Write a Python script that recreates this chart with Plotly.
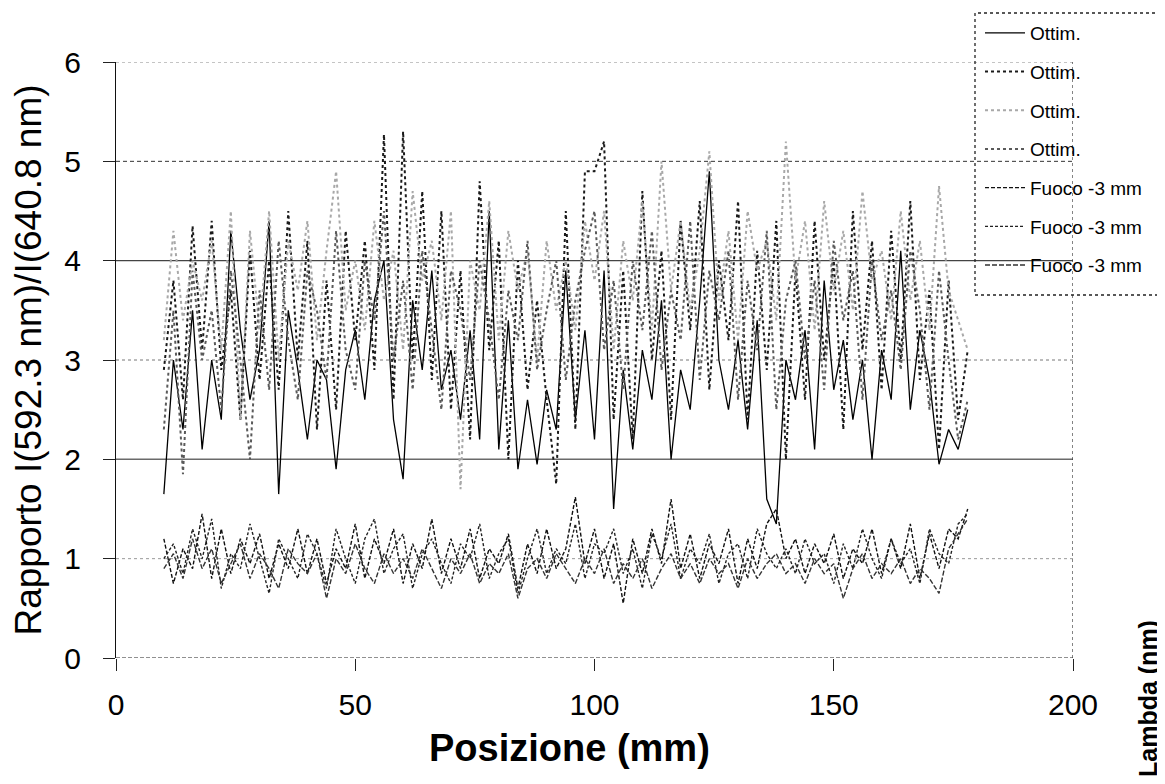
import plotly.graph_objects as go

# ---------------- data ----------------
posizione = list(range(10, 179, 2))  # mm

ottim_1 = [1.65, 3.0, 2.3, 3.5, 2.1, 3.0, 2.4, 4.3, 3.3, 2.6,
           3.1, 4.4, 1.65, 3.5, 2.9, 2.2, 3.0, 2.8, 1.9, 2.9,
           3.3, 2.6, 3.6, 4.0, 2.4, 1.8, 3.6, 2.9, 3.9, 2.7,
           3.1, 2.4, 3.3, 2.2, 4.5, 2.1, 3.4, 1.9, 2.6, 1.95,
           2.7, 2.3, 3.9, 2.4, 3.3, 2.2, 3.9, 1.5, 2.9, 2.1,
           3.1, 2.6, 3.6, 2.0, 2.9, 2.5, 3.6, 4.9, 3.0, 2.5,
           3.2, 2.3, 3.4, 1.6, 1.35, 3.0, 2.6, 3.3, 2.1, 3.8,
           2.7, 3.2, 2.4, 3.0, 2.0, 3.1, 2.6, 4.1, 2.5, 3.3,
           2.8, 1.95, 2.3, 2.1, 2.5]

ottim_2 = [2.9, 3.8, 2.6, 4.35, 3.1, 4.4, 2.9, 3.7, 2.4, 4.1,
           2.8, 4.0, 2.7, 4.5, 3.0, 4.2, 2.3, 3.8, 2.5, 4.3,
           3.2, 4.2, 2.9, 5.27, 2.6, 5.3, 3.0, 4.7, 2.8, 4.5,
           2.5, 3.9, 2.2, 4.8, 3.1, 4.2, 2.0, 4.0, 2.7, 3.6,
           2.6, 1.75, 4.5, 2.3, 4.9, 4.9, 5.2, 2.4, 3.9, 2.2,
           4.7, 3.0, 4.1, 2.4, 4.4, 3.3, 4.6, 2.7, 4.0, 3.2,
           4.6, 2.4, 4.1, 2.9, 4.4, 2.0, 3.9, 2.6, 4.4, 3.0,
           4.0, 2.3, 4.5, 3.1, 4.2, 2.7, 4.3, 3.0, 4.6, 2.8,
           3.7, 2.1, 3.8, 2.4, 3.1]

ottim_3 = [3.2, 4.3, 3.4, 4.0, 3.6, 4.2, 3.1, 4.5, 2.4, 4.3,
           3.3, 4.5, 3.0, 4.2, 3.7, 4.4, 3.2, 4.1, 4.9, 3.5,
           4.0, 3.3, 4.4, 3.6, 4.1, 3.1, 4.7, 3.8, 4.2, 3.4,
           4.5, 1.7, 4.0, 3.5, 4.6, 3.2, 4.3, 3.7, 4.1, 3.0,
           4.2, 3.5, 4.0, 3.3, 4.4, 3.8, 4.5, 3.1, 4.2, 3.6,
           4.6, 3.3, 5.0, 3.7, 4.4, 3.5, 4.1, 5.1, 3.6, 4.3,
           3.2, 4.5, 3.9, 4.2, 3.4, 5.2, 3.8, 4.4, 3.3, 4.6,
           3.7, 4.3, 3.5, 4.7, 3.8, 4.1, 3.4, 4.5, 3.6, 4.2,
           3.3, 4.75, 3.7, 3.4, 3.1]

ottim_4 = [2.3, 3.5, 1.85, 3.9, 3.0, 3.5, 2.5, 3.9, 3.0, 2.0,
           3.7, 2.7, 4.2, 3.2, 2.6, 3.9, 3.5, 2.8, 4.3, 3.1,
           2.7, 4.0, 3.4, 4.5, 3.0, 3.8, 2.7, 4.1, 3.3, 2.5,
           3.9, 3.5, 2.8, 4.0, 3.4, 2.6, 3.7, 3.2, 4.2, 2.9,
           3.5, 4.0, 2.8, 3.6, 4.1, 4.5, 3.1, 3.8, 2.7, 4.0,
           3.3, 4.3, 2.9, 3.7, 3.2, 4.4, 2.8, 3.9, 3.4, 4.1,
           2.6, 3.8, 3.1, 4.3, 2.5, 3.6, 4.0, 3.0, 3.8, 2.7,
           4.2, 3.4, 3.9, 2.6, 4.0, 3.2, 3.7, 2.9, 4.1, 3.5,
           2.5, 3.9, 3.0, 2.2, 2.6]

fuoco_1 = [1.2, 0.75, 1.1, 0.9, 1.45, 0.8, 1.3, 0.85, 1.2, 0.95,
           1.25, 0.8, 1.15, 0.9, 1.3, 0.85, 1.2, 0.75, 1.1, 0.9,
           1.35, 0.8, 1.2, 0.95, 1.3, 0.75, 1.15, 0.9, 1.4, 0.85,
           1.2, 0.9, 1.3, 0.8, 1.1, 0.95, 1.25, 0.7, 1.15, 0.85,
           1.3, 0.9, 1.1, 1.62, 0.95, 1.3, 0.8, 1.15, 0.55, 1.2,
           0.85, 1.3, 0.95, 1.6, 0.9, 1.25, 0.8, 1.15, 0.95, 1.3,
           0.75, 1.2, 0.9, 1.35, 1.5, 1.0, 1.2, 0.85, 1.15, 0.95,
           1.25, 0.8, 1.1, 0.95, 1.3, 0.85, 1.2, 0.9, 1.35, 0.8,
           1.25, 0.9, 1.3, 1.2, 1.5]

fuoco_2 = [1.0, 1.15, 0.85, 1.3, 1.0, 1.4, 0.7, 1.05, 0.9, 1.35,
           1.0, 0.65, 1.2, 1.0, 0.8, 1.25, 1.05, 0.7, 1.3, 1.0,
           0.75, 1.2, 1.4, 0.85, 1.1, 1.25, 0.7, 1.05, 1.2, 0.95,
           0.75, 1.15, 1.0, 1.35, 0.8, 1.05, 1.2, 0.65, 1.0, 1.3,
           0.85, 1.1, 0.95, 1.35, 0.8, 1.15, 1.05, 1.3, 0.85, 1.1,
           0.7, 1.25, 1.0, 1.35, 0.8, 1.1, 0.95, 1.25, 0.75, 1.05,
           1.15, 0.8, 1.3, 1.05, 0.9, 1.1, 0.85, 1.2, 0.95, 1.05,
           0.75, 1.15, 0.9, 1.3, 1.0, 0.8, 1.2, 0.95, 1.1, 0.75,
           1.3, 1.05, 0.95, 1.35, 1.45]

fuoco_3 = [0.9, 1.05, 0.8, 1.2, 0.9, 1.1, 0.75, 0.95, 1.15, 0.8,
           1.05, 0.9, 0.7, 1.1, 0.95, 0.85, 1.05, 0.6, 1.0, 0.85,
           1.15, 0.9, 0.75, 1.05, 0.85, 1.0, 0.8, 1.1, 0.9, 0.7,
           1.0, 0.85, 1.05, 0.75, 0.95, 0.85, 1.05, 0.6, 0.9, 1.0,
           0.8, 1.05, 0.9, 0.75, 1.0, 0.85, 1.1, 0.75, 0.95, 0.8,
           1.0, 0.7, 0.9, 1.05, 0.8, 0.95, 0.75, 1.0, 0.85, 0.95,
           0.7, 1.0, 0.8, 0.95, 1.05, 0.85, 0.95, 0.75, 1.0, 0.85,
           0.95, 0.6, 0.9, 1.05, 0.8, 0.95, 0.85, 1.0, 0.75, 0.9,
           0.8, 0.65, 1.1, 1.25, 1.4]

series_names = ["Ottim.", "Ottim.", "Ottim.", "Ottim.",
                "Fuoco -3 mm", "Fuoco -3 mm", "Fuoco -3 mm"]
series_values = [ottim_1, ottim_2, ottim_3, ottim_4, fuoco_1, fuoco_2, fuoco_3]

x_ticks = [0, 50, 100, 150, 200]
y_ticks = [0, 1, 2, 3, 4, 5, 6]

# ---------------- styles ----------------
line_styles = [
    dict(color="#000000", width=1.3, dash="solid"),
    dict(color="#1a1a1a", width=2.0, dash="dot"),
    dict(color="#a8a8a8", width=2.0, dash="dot"),
    dict(color="#5a5a5a", width=2.0, dash="dot"),
    dict(color="#111111", width=1.4, dash="4px,2px"),
    dict(color="#222222", width=1.4, dash="3px,2px"),
    dict(color="#333333", width=1.4, dash="5px,2px"),
]

grid_styles = {
    6: dict(color="#8a8a8a", width=1, dash="dot"),
    5: dict(color="#333333", width=1, dash="4px,3px"),
    4: dict(color="#444444", width=1.2, dash="solid"),
    3: dict(color="#777777", width=1, dash="3px,3px"),
    2: dict(color="#6a6a6a", width=1.5, dash="solid"),
    1: dict(color="#9a9a9a", width=1, dash="dot"),
    0: dict(color="#222222", width=1.2, dash="4px,2px"),
}

FONT = "Liberation Sans, Arial, sans-serif"

# page offset (the html body has an 8px margin)
OFF = 8
W, H = 1165 - OFF, 784 - OFF
# plot-area edges in page pixels
L, R, T, B = 116, 1073, 62, 658
pw, ph = R - L, B - T

fig = go.Figure()
for i, (name, vals) in enumerate(zip(series_names, series_values)):
    fig.add_trace(go.Scatter(
        x=posizione, y=vals, mode="lines", name=name,
        legendgroup=f"g{i}", line=line_styles[i],
    ))

shapes = []
for lvl in y_ticks:
    shapes.append(dict(type="line", xref="paper", yref="y", x0=0, x1=1,
                       y0=lvl, y1=lvl, line=grid_styles[lvl], layer="below"))
shapes.append(dict(type="line", xref="x", yref="paper", x0=200, x1=200,
                   y0=0, y1=1, line=dict(color="#333333", width=1.2, dash="dot"),
                   layer="below"))
shapes.append(dict(type="rect", xref="paper", yref="paper",
                   x0=(975 - L) / pw, x1=(1161 - L) / pw,
                   y0=(B - 295) / ph, y1=(B - 13) / ph,
                   line=dict(color="#222222", width=1.3, dash="dot"),
                   fillcolor="rgba(0,0,0,0)", layer="above"))

fig.update_layout(
    width=W, height=H,
    margin=dict(l=L - OFF, r=1165 - R, t=T - OFF, b=784 - B, autoexpand=False),
    paper_bgcolor="white", plot_bgcolor="white",
    font=dict(family=FONT, color="black"),
    showlegend=True,
    legend=dict(x=(980 - L) / pw, y=(B - 14) / ph, xanchor="left", yanchor="top",
                font=dict(family=FONT, size=19, color="black"),
                bgcolor="rgba(0,0,0,0)", borderwidth=0, itemwidth=40,
                tracegroupgap=11, traceorder="grouped"),
    shapes=shapes,
    xaxis=dict(range=[0, 200], tickvals=x_ticks, ticks="outside", ticklen=12,
               tickcolor="#222", showgrid=False, zeroline=False, showline=False,
               tickfont=dict(family=FONT, size=30), ticklabelstandoff=8),
    yaxis=dict(range=[0, 6], tickvals=y_ticks, ticks="outside", ticklen=12,
               tickcolor="#222", showgrid=False, zeroline=False,
               showline=True, linecolor="#111", linewidth=1.2,
               tickfont=dict(family=FONT, size=30), ticklabelstandoff=16,
               title=dict(text="Rapporto I(592.3 nm)/I(640.8 nm)",
                          font=dict(family=FONT, size=37), standoff=12)),
    annotations=[
        dict(text="<b>Posizione (mm)</b>", xref="paper", yref="paper",
             x=(569 - L) / pw, y=(B - 748) / ph, xanchor="center", yanchor="middle",
             showarrow=False, font=dict(family=FONT, size=38, color="black")),
        dict(text="<b>Lambda (nm)</b>", xref="paper", yref="paper",
             x=(1148 - L) / pw, y=(B - 699) / ph, xanchor="center", yanchor="middle",
             textangle=-90, showarrow=False,
             font=dict(family=FONT, size=25, color="black")),
    ],
)

fig.write_html("out.html")
